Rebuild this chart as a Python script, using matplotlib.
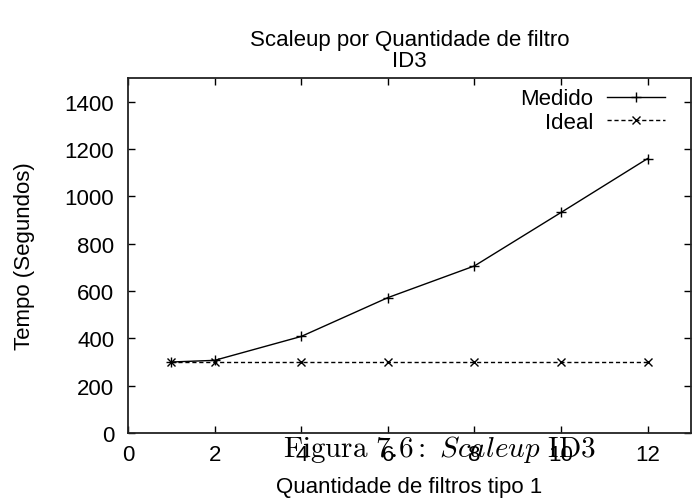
import matplotlib.pyplot as plt

plt.rcParams['font.family'] = ['Liberation Sans', 'DejaVu Sans']
plt.rcParams['mathtext.fontset'] = 'cm'

# dados
filtros = [1, 2, 4, 6, 8, 10, 12]
medido = [300, 307, 408, 572, 706, 932, 1160]
ideal = [300, 300, 300, 300, 300, 300, 300]
xticks = [0, 2, 4, 6, 8, 10, 12]
yticks = [0, 200, 400, 600, 800, 1000, 1200, 1400]

fig = plt.figure(figsize=(6.92, 5.02), dpi=100)
ax = fig.add_axes([0.185, 0.1355, 0.8135, 0.707])

ax.plot(filtros, medido, color='black', lw=1, marker='+', ms=7, mew=1, label='Medido')
ax.plot(filtros, ideal, color='black', lw=1, ls=(0, (3, 2)), marker='x', ms=6, mew=1, label='Ideal')

ax.set_xlim(0, 13)
ax.set_ylim(0, 1500)
ax.set_xticks(xticks)
ax.set_yticks(yticks)
ax.tick_params(direction='in', top=True, right=True, length=5, width=1, labelsize=16)
ax.tick_params(axis='x', pad=8)
ax.tick_params(axis='y', pad=10)
for s in ax.spines.values():
    s.set_linewidth(1.3)
    s.set_color('#222222')

ax.set_title('Scaleup por Quantidade de filtro\nID3', fontsize=16, pad=9, linespacing=0.97)
ax.set_xlabel('Quantidade de filtros tipo 1', fontsize=16, labelpad=8)
ax.set_ylabel('Tempo (Segundos)', fontsize=16, labelpad=21)

ax.legend(loc='upper right', frameon=False, markerfirst=False, fontsize=16,
          handlelength=2.6, handletextpad=0.6, labelspacing=0.1,
          borderaxespad=0.2, borderpad=0.1, bbox_to_anchor=(0.965, 0.99))

fig.text(0.635, 0.105, r'$\mathrm{Figura\ 7.6{:}\ }\mathit{Scaleup}\mathrm{\ ID3}$',
         fontsize=21, ha='center', va='center')

plt.savefig('out.png', dpi=100)
